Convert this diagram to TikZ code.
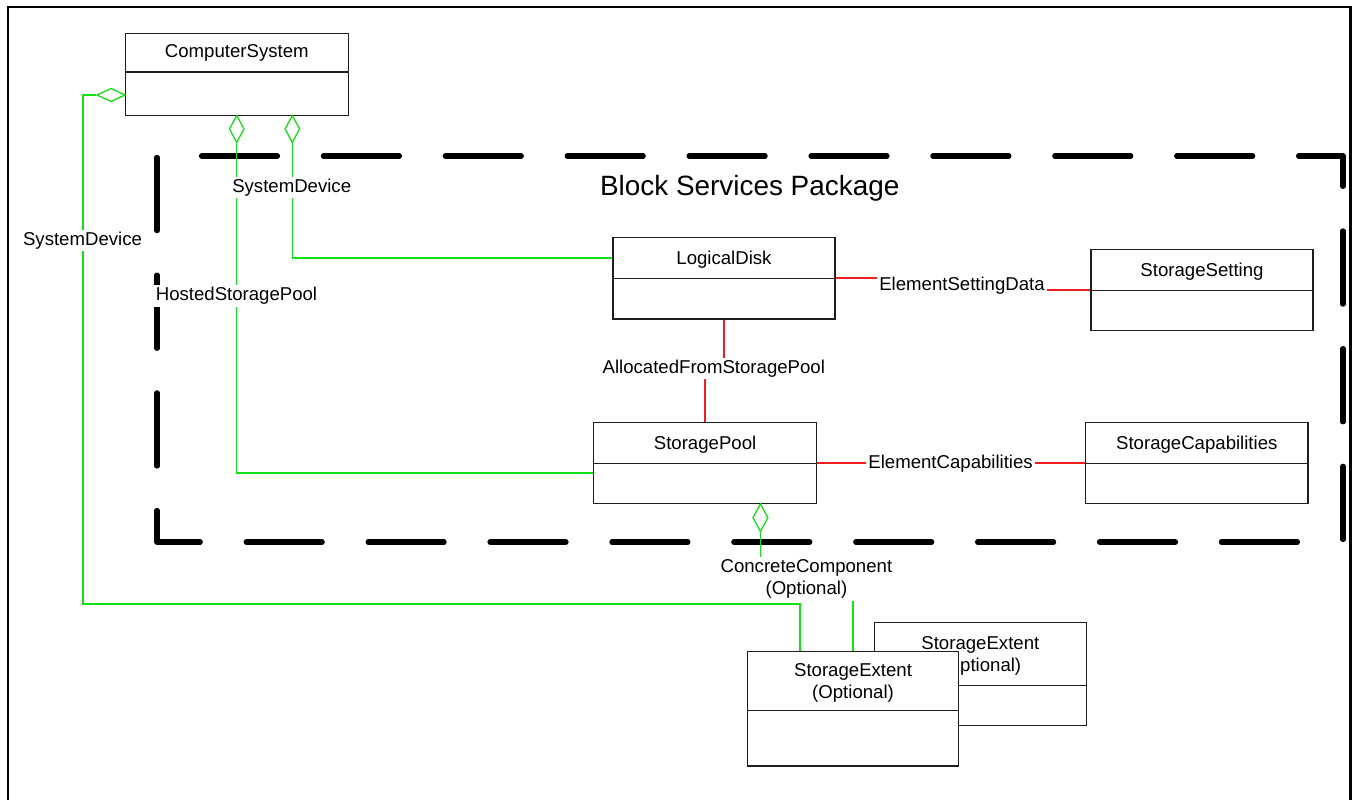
\documentclass[tikz,border=0pt]{standalone}
\usepackage{fontspec}
\setmainfont{Liberation Sans}
\usetikzlibrary{shapes.geometric}
\pgfdeclarelayer{bg}
\pgfsetlayers{bg,main}
\definecolor{assoc}{RGB}{20,225,20}
\definecolor{rel}{RGB}{240,30,30}
\definecolor{boxline}{RGB}{30,30,30}
\begin{document}
\begin{tikzpicture}[x=1pt,y=-1pt,
  cls/.style={draw=boxline, line width=1.2pt, fill=white, inner sep=0pt},
  ttl/.style={font=\fontsize{18.6}{22.3}\selectfont, inner sep=0pt, align=center},
  lbl/.style={font=\fontsize{18.6}{22.3}\selectfont, fill=white, inner sep=2pt, align=center},
  agg/.style={shape=diamond, draw=assoc, line width=1.3pt, fill=white, inner sep=0pt},
  gline/.style={draw=assoc, line width=1.5pt},
  rline/.style={draw=rel, line width=1.5pt},
  pkg/.style={line width=5.2pt, line cap=round, line join=round, dash pattern=on 76pt off 45.9pt, dash phase=119.4pt}
]
\useasboundingbox (0,0) rectangle (1353,800);

% outer frame
\draw[line width=2.2pt] (8,812) -- (8,6.7) -- (1350.5,6.7) -- (1350.5,812);

% class boxes
\node[cls, minimum width=223pt, minimum height=81.6pt] (cs) at (236.8,74.5) {};
\draw[boxline, line width=1.2pt] ([yshift=-39pt]cs.north west) -- ([yshift=-39pt]cs.north east);
\node[ttl, anchor=base] (cst) at (236.8,57.3) {ComputerSystem};

\node[cls, minimum width=222pt, minimum height=81.7pt] (ld) at (724,278.15) {};
\draw[boxline, line width=1.2pt] ([yshift=-42pt]ld.north west) -- ([yshift=-42pt]ld.north east);
\node[ttl, anchor=base] (ldt) at (724,264.6) {LogicalDisk};

\node[cls, minimum width=222pt, minimum height=81.4pt] (ss) at (1202,290) {};
\draw[boxline, line width=1.2pt] ([yshift=-41.7pt]ss.north west) -- ([yshift=-41.7pt]ss.north east);
\node[ttl, anchor=base] (sst) at (1202,276.7) {StorageSetting};

\node[cls, minimum width=222.9pt, minimum height=81.4pt] (sp) at (705.05,463) {};
\draw[boxline, line width=1.2pt] ([yshift=-41.7pt]sp.north west) -- ([yshift=-41.7pt]sp.north east);
\node[ttl, anchor=base] (spt) at (705.05,449.3) {StoragePool};

\node[cls, minimum width=222.4pt, minimum height=81.4pt] (sc) at (1196.8,463) {};
\draw[boxline, line width=1.2pt] ([yshift=-41.7pt]sc.north west) -- ([yshift=-41.7pt]sc.north east);
\node[ttl, anchor=base] (sct) at (1196.8,449.3) {StorageCapabilities};

\node[cls, minimum width=212.1pt, minimum height=103.4pt] (seb) at (980.35,674) {};
\draw[boxline, line width=1.2pt] ([yshift=-63.4pt]seb.north west) -- ([yshift=-63.4pt]seb.north east);
\node[ttl] (sebt) at (980.35,655.7) {StorageExtent\\(Optional)};

\node[cls, minimum width=211.1pt, minimum height=114.7pt] (sef) at (853.05,708.65) {};
\draw[boxline, line width=1.2pt] ([yshift=-60pt]sef.north west) -- ([yshift=-60pt]sef.north east);
\node[ttl] (seft) at (853.05,683) {StorageExtent\\(Optional)};

% aggregation diamonds
\node[agg, minimum width=28.6pt, minimum height=13.4pt] (d0) at (111,95) {};
\node[agg, minimum width=15pt, minimum height=27.4pt] (d1) at (236.7,129) {};
\node[agg, minimum width=15pt, minimum height=27.4pt] (d2) at (292.3,129) {};
\node[agg, minimum width=15.4pt, minimum height=28pt] (d3) at (760.4,517.7) {};

% helper coordinates
\coordinate (sdA) at (83,604.2);
\coordinate (ccA) at (806.4,578);
\coordinate (esdA) at (962,284);
\coordinate (afsA) at (714,367);

\begin{pgfonlayer}{bg}
  % package border (vertical scale slightly compressed, as in the original)
  \begin{scope}[transform canvas={yscale=0.9655}]
    \draw[pkg] (1343,561.37) -- (1343,161.57) -- (157,161.57) -- (157,561.37) -- (1343,561.37);
  \end{scope}
  % green aggregation connectors
  \draw[gline] (d0.west) -| (sdA) -| ([xshift=-53.3pt]sef.north);
  \draw[gline] (d1.south) |- ([yshift=-10pt]sp.west);
  \draw[gline] (d2.south) |- ([yshift=20pt]ld.west);
  \draw[gline] (d3.south) |- (ccA) -| (sef.north);
  % red associations
  \draw[rline] (ld.east) -| (esdA) |- (ss.west);
  \draw[rline] (ld.south) |- (afsA) -| (sp.north);
  \draw[rline] (sp.east) -- (sc.west);
\end{pgfonlayer}

% package name
\node[font=\fontsize{27.9}{33}\selectfont, inner sep=0pt, anchor=base] (pkgname) at (749.7,195) {Block Services Package};

% connector labels
\node[lbl, anchor=base] (l1) at (82.5,245.6) {SystemDevice};
\node[lbl, anchor=base] (l2) at (291.7,192.5) {SystemDevice};
\node[lbl, anchor=base] (l3) at (236.5,300.7) {HostedStoragePool};
\node[lbl, anchor=base] (l4) at (962,290) {ElementSettingData};
\node[lbl, anchor=base] (l5) at (713.8,373.3) {AllocatedFromStoragePool};
\node[lbl, anchor=base] (l6) at (950.6,468.3) {ElementCapabilities};
\node[lbl] (l7) at (806.4,579) {ConcreteComponent\\(Optional)};
\end{tikzpicture}
\end{document}
